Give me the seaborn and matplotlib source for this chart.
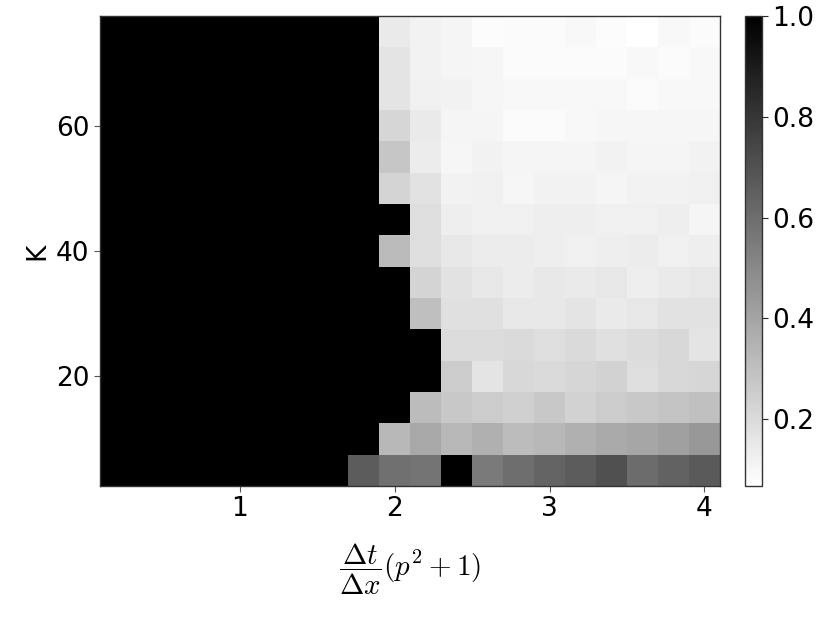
"""Heatmap of the failure fraction over the CFL-like ratio and K."""
import pandas as pd
import seaborn as sns
import matplotlib.pyplot as plt

# column centres: dt/dx * (p^2 + 1)
ratio = [0.2, 0.4, 0.6, 0.8, 1.0, 1.2, 1.4, 1.6, 1.8, 2.0,
         2.2, 2.4, 2.6, 2.8, 3.0, 3.2, 3.4, 3.6, 3.8, 4.0]
# row centres, top row first
k_vals = [75, 70, 65, 60, 55, 50, 45, 40, 35, 30, 25, 20, 15, 10, 5]

x_ticks = [1, 2, 3, 4]
y_ticks = [20, 40, 60]
cbar_ticks = [0.2, 0.4, 0.6, 0.8, 1.0]

# left block (ratio 0.2 .. 1.6) is fully black for every K
black = [1.0] * 8
frac = [
    black + [1.0, 0.144, 0.115, 0.107, 0.078, 0.085, 0.085, 0.093, 0.078, 0.067, 0.093, 0.085],
    black + [1.0, 0.166, 0.115, 0.107, 0.100, 0.085, 0.085, 0.085, 0.085, 0.093, 0.085, 0.093],
    black + [1.0, 0.166, 0.122, 0.115, 0.100, 0.093, 0.093, 0.093, 0.093, 0.085, 0.093, 0.093],
    black + [1.0, 0.217, 0.144, 0.107, 0.107, 0.085, 0.085, 0.093, 0.100, 0.100, 0.100, 0.100],
    black + [1.0, 0.276, 0.137, 0.100, 0.115, 0.107, 0.107, 0.107, 0.115, 0.107, 0.107, 0.115],
    black + [1.0, 0.224, 0.173, 0.115, 0.122, 0.100, 0.115, 0.115, 0.107, 0.115, 0.115, 0.122],
    black + [1.0, 1.000, 0.188, 0.129, 0.122, 0.122, 0.129, 0.129, 0.122, 0.122, 0.129, 0.107],
    black + [1.0, 0.316, 0.188, 0.151, 0.137, 0.137, 0.129, 0.122, 0.129, 0.137, 0.122, 0.129],
    black + [1.0, 1.000, 0.224, 0.173, 0.158, 0.137, 0.151, 0.144, 0.158, 0.129, 0.144, 0.158],
    black + [1.0, 1.000, 0.301, 0.180, 0.180, 0.158, 0.151, 0.166, 0.144, 0.158, 0.173, 0.173],
    black + [1.0, 1.000, 1.000, 0.195, 0.195, 0.202, 0.188, 0.202, 0.180, 0.195, 0.210, 0.166],
    black + [1.0, 1.000, 1.000, 0.254, 0.166, 0.210, 0.202, 0.217, 0.232, 0.188, 0.210, 0.217],
    black + [1.0, 1.000, 0.312, 0.268, 0.254, 0.239, 0.268, 0.232, 0.254, 0.268, 0.283, 0.298],
    black + [1.0, 0.327, 0.385, 0.327, 0.356, 0.312, 0.327, 0.356, 0.378, 0.393, 0.415, 0.444],
    black + [0.663, 0.590, 0.576, 1.000, 0.554, 0.598, 0.634, 0.663, 0.707, 0.605, 0.641, 0.671],
]

df = pd.DataFrame(frac, index=k_vals, columns=ratio)

sns.set_style("ticks")
plt.rcParams['font.family'] = ['DejaVu Sans']
plt.rcParams['mathtext.fontset'] = 'cm'
plt.rcParams['text.color'] = 'black'
plt.rcParams['axes.labelcolor'] = 'black'
plt.rcParams['xtick.labelcolor'] = 'black'
plt.rcParams['ytick.labelcolor'] = 'black'

fig = plt.figure(figsize=(8.3, 6.23), dpi=100)
ax = fig.add_axes([100 / 830, 137 / 623, 620 / 830, 470 / 623])
cax = fig.add_axes([745 / 830, 137 / 623, 17 / 830, 470 / 623])

sns.heatmap(df, ax=ax, cbar_ax=cax, cmap='binary',
            xticklabels=False, yticklabels=False)

# map data values onto the heatmap's cell index coordinates
dx = ratio[1] - ratio[0]
dk = k_vals[0] - k_vals[1]
ax.set_xticks([(v - ratio[0]) / dx + 0.5 for v in x_ticks])
ax.set_xticklabels([str(v) for v in x_ticks])
ax.set_yticks([(k_vals[0] - v) / dk + 0.5 for v in y_ticks])
ax.set_yticklabels([str(v) for v in y_ticks], rotation=0)

for side in ['left', 'right', 'top', 'bottom']:
    ax.spines[side].set_visible(True)
    ax.spines[side].set_color('#333333')
    ax.spines[side].set_linewidth(1.0)

ax.tick_params(labelsize=19, length=4, width=0.8, color='#555555',
               labelcolor='black')
ax.set_xlabel(r'$\dfrac{\Delta t}{\Delta x}(p^2+1)$', fontsize=21,
              labelpad=14, color='black')
ax.set_ylabel('K', fontsize=19, labelpad=4, color='black')

cbar = ax.collections[0].colorbar
cbar.set_ticks(cbar_ticks)
cbar.ax.tick_params(labelsize=19, length=4, width=0.8, labelcolor='black')
cbar.outline.set_visible(True)
cbar.outline.set_edgecolor('#333333')
cbar.outline.set_linewidth(1.0)

fig.savefig('out.png', dpi=100)
